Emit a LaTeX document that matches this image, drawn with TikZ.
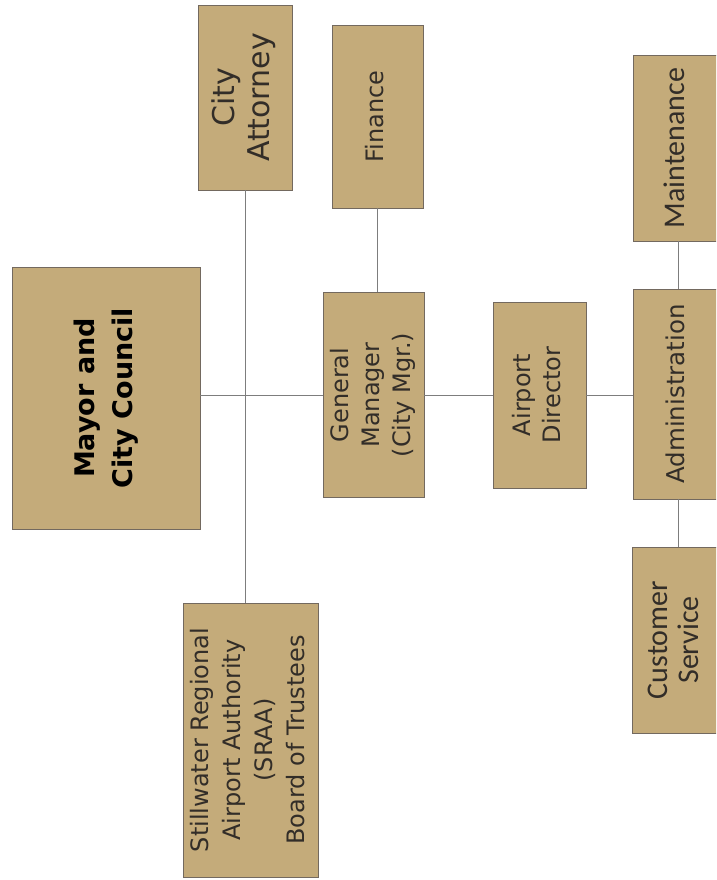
\documentclass[tikz,border=0pt]{standalone}
\usepackage{fontspec}
\setmainfont{DejaVu Sans}
\newfontfamily\calib{Carlito}
\definecolor{boxfill}{RGB}{196,171,122}
\definecolor{boxline}{RGB}{115,105,95}
\definecolor{txt}{RGB}{50,45,40}
\definecolor{conn}{RGB}{125,125,125}
\newcommand{\vtext}[2]{\rotatebox{90}{#1\begin{tabular}{@{}c@{}}#2\end{tabular}}}
\begin{document}
\begin{tikzpicture}[x=1pt,y=-1pt,
  orgbox/.style={draw=boxline,fill=boxfill,line width=0.9pt,inner sep=0pt,text=txt},
  link/.style={draw=conn,line width=0.8pt}]
\useasboundingbox (0,0) rectangle (716,880);
\begin{scope}
\clip (0,0) rectangle (716,880);
% boxes
\node[orgbox,minimum width=188pt,minimum height=262pt,text=black] (mayor) at (106,398)
  {\vtext{\fontsize{27}{38}\selectfont\bfseries}{Mayor and\\City Council}};
\node[orgbox,minimum width=135pt,minimum height=274pt] (sraa) at (250.5,740)
  {\vtext{\fontsize{24}{32}\selectfont}{Stillwater Regional\\Airport Authority\\(SRAA)\\Board of Trustees}};
\node[orgbox,minimum width=94pt,minimum height=185pt] (atty) at (245,97.5)
  {\vtext{\fontsize{30}{35}\selectfont}{City\\Attorney}};
\node[orgbox,minimum width=91pt,minimum height=183pt] (fin) at (377.5,116.5)
  {\vtext{\fontsize{24}{30}\selectfont}{Finance}};
\node[orgbox,minimum width=101pt,minimum height=205pt] (gm) at (373.5,395)
  {\vtext{\fontsize{24}{31}\selectfont}{General\\Manager\\(City Mgr.)}};
\node[orgbox,minimum width=93pt,minimum height=186pt] (ad) at (539.5,395)
  {\vtext{\fontsize{24}{30}\selectfont}{Airport\\Director}};
\node[orgbox,minimum width=90pt,minimum height=186pt] (maint) at (678,148)
  {\vtext{\calib\fontsize{30}{31}\selectfont}{Maintenance}};
\node[orgbox,minimum width=90pt,minimum height=210pt] (admin) at (678,394)
  {\vtext{\fontsize{24.5}{30}\selectfont}{Administration}};
\node[orgbox,minimum width=90pt,minimum height=186pt] (cs) at (677,640)
  {\vtext{\calib\fontsize{30}{31}\selectfont}{Customer\\Service}};
% connectors
\draw[link] (atty.south) -- (atty.south |- sraa.north);
\draw[link] (gm.west -| mayor.east) -- (gm.west);
\draw[link] (gm.east) -- (ad.west);
\draw[link] (ad.east) -- (ad.east -| admin.west);
\draw[link] (fin.south) -- (fin.south |- gm.north);
\draw[link] (maint.south) -- (admin.north);
\draw[link] (admin.south) -- (admin.south |- cs.north);
\end{scope}
\end{tikzpicture}
\end{document}
